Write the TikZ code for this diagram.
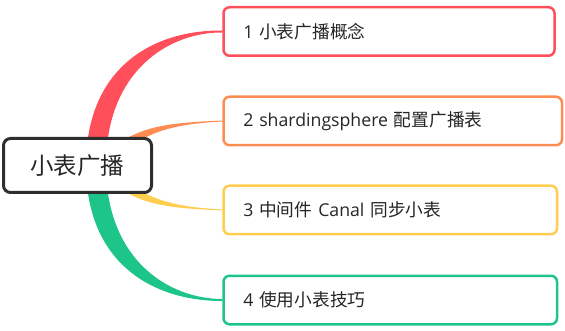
\documentclass[tikz,border=0pt]{standalone}
\usepackage{fontspec}
\setmainfont{Noto Sans CJK SC}
\newfontfamily\lat{Open Sans}
\usetikzlibrary{calc}
\definecolor{cred}{HTML}{FF4F5A}
\definecolor{corange}{HTML}{FF8C52}
\definecolor{cyellow}{HTML}{FFCD4F}
\definecolor{cgreen}{HTML}{1DC688}
\definecolor{cdark}{HTML}{2E2E2E}
\tikzset{
  rootbox/.style={draw=cdark, line width=3pt, rounded corners=7pt, fill=white,
    minimum width=148pt, minimum height=54pt, inner sep=0pt,
    font=\fontsize{23.5}{26}\selectfont, text=black!85},
  topicbox/.style={line width=2.5pt, rounded corners=6pt, fill=white, anchor=west,
    minimum height=48.5pt, inner xsep=19.75pt, inner ysep=0pt, align=left,
    font=\fontsize{17.7}{20}\selectfont, text=black!85},
}
\begin{document}
\begin{tikzpicture}[x=1pt,y=-1pt]
  \useasboundingbox (0,0) rectangle (565,331);

  % topics
  \node[topicbox, draw=cred, text width=291.5pt]    (t1) at (222.25,31.5)  {{\lat 1} 小表广播概念};
  \node[topicbox, draw=corange, text width=299pt]   (t2) at (222.25,121)   {{\lat 2 shardingsphere} 配置广播表};
  \node[topicbox, draw=cyellow, text width=294pt]   (t3) at (222.25,210)   {{\lat 3} 中间件 {\lat Canal} 同步小表};
  \node[topicbox, draw=cgreen, text width=294pt]    (t4) at (222.25,300)   {{\lat 4} 使用小表技巧};

  % central topic position
  \coordinate (rc) at (77.5,165.5);

  % tapered branches from the central topic to each topic
  \fill[cred] ($(rc)+(8.5,0)$) .. controls (86,70) and (150,30) .. ($(t1.west)+(0,-1)$)
     -- ($(t1.west)+(0,1)$) .. controls (170,32) and (106,70) .. ($(rc)+(28.5,0)$) -- cycle;
  \fill[cgreen] ($(rc)+(8.5,0)$) .. controls (86,261) and (150,301) .. ($(t4.west)+(0,1)$)
     -- ($(t4.west)+(0,-1)$) .. controls (170,299) and (106,261) .. ($(rc)+(28.5,0)$) -- cycle;
  \fill[corange] ($(rc)+(32.5,-15.5)$) .. controls (140,125) and (170,123) .. ($(t2.west)+(0,-0.5)$)
     -- ($(t2.west)+(0,0.5)$) .. controls (175,124) and (150,131) .. ($(rc)+(44.5,-13.5)$) -- cycle;
  \fill[cyellow] ($(rc)+(32.5,15.5)$) .. controls (140,206) and (170,208) .. ($(t3.west)+(0,0.5)$)
     -- ($(t3.west)+(0,-0.5)$) .. controls (175,207) and (150,200) .. ($(rc)+(44.5,13.5)$) -- cycle;

  % central topic
  \node[rootbox] (root) at (rc) {小表广播};
\end{tikzpicture}
\end{document}
